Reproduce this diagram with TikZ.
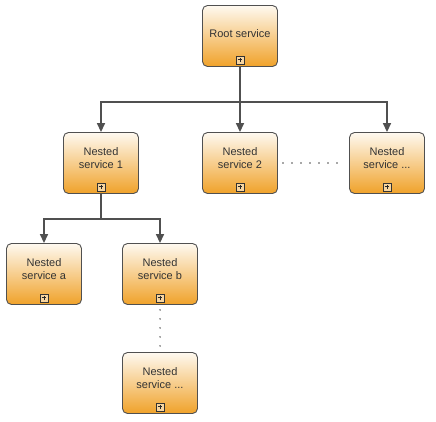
\documentclass[tikz,border=0pt]{standalone}
\usepackage{fontspec}
\setmainfont{Liberation Sans}
\usetikzlibrary{arrows.meta}
\definecolor{svctop}{RGB}{254,249,240}
\definecolor{svcbot}{RGB}{240,162,42}
\definecolor{svcline}{RGB}{80,80,80}

\begin{document}
\begin{tikzpicture}[x=1pt,y=-1pt,>={Triangle[width=8pt,length=9pt]},
    svc/.style={draw=svcline,line width=0.9pt,rounded corners=5pt,
      top color=svctop,bottom color=svcbot,minimum width=75pt,
      minimum height=61pt,inner sep=0pt,align=center,text=black!80,
      font=\fontsize{11}{12.5}\selectfont,text depth=10pt},
    plusicon/.style={draw=black!80,fill=svcbot!45!white,line width=0.7pt,
      minimum size=8pt,inner sep=0pt},
    conn/.style={draw=svcline,line width=1.6pt},
    dots/.style={draw=svcline,line width=1.6pt,line cap=round,
      dash pattern=on 0pt off 9pt,shorten >=5pt,shorten <=5pt}]
    \useasboundingbox[fill=white](0,0)rectangle(436,422);
    % services
    \node[svc,text depth=4pt](root)at(240,36){Root service};
    \node[svc](n1)at(101,163){Nested\\service 1};
    \node[svc](n2)at(240,163){Nested\\service 2};
    \node[svc](nx)at(387,163){Nested\\service ...};
    \node[svc](na)at(44,274){Nested\\service a};
    \node[svc](nb)at(160,274){Nested\\service b};
    \node[svc](ny)at(160,383){Nested\\service ...};
    \foreach \b in {root,n1,n2,nx,na,nb,ny}{
      \node[plusicon](\b-icon)at([yshift=7pt]\b.south){};
      \draw[line width=1pt,black!85]
        ([xshift=-2.3pt]\b-icon.center)--([xshift=2.3pt]\b-icon.center)
        ([yshift=-2.3pt]\b-icon.center)--([yshift=2.3pt]\b-icon.center);}
    % connectors
    \coordinate(j1)at([yshift=-35pt]root.south);
    \coordinate(j2)at([yshift=-25pt]n1.south);
    \draw[conn,->](root.south)--(j1)-|(n1.north);
    \draw[conn,->](j1)--(n2.north);
    \draw[conn,->](j1)-|(nx.north);
    \draw[conn,->](n1.south)--(j2)-|(na.north);
    \draw[conn,->](j2)-|(nb.north);
    \draw[dots](n2)--(nx);
    \draw[dots](nb)--(ny);
  \end{tikzpicture}
\end{document}
